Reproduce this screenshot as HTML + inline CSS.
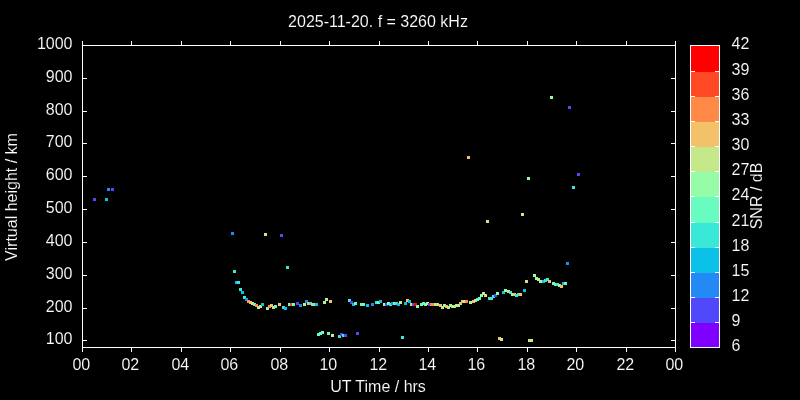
<!DOCTYPE html>
<html><head><meta charset="utf-8"><style>
html,body{margin:0;padding:0;background:#000;width:800px;height:400px;overflow:hidden}
svg{display:block;will-change:transform}
</style></head><body>
<svg width="800" height="400" viewBox="0 0 800 400">
<rect width="800" height="400" fill="#000"/>
<g shape-rendering="crispEdges">
<rect x="690" y="323" width="30" height="25" fill="#8000ff"/><rect x="690" y="298" width="30" height="25" fill="#5148fc"/><rect x="690" y="273" width="30" height="25" fill="#238af5"/><rect x="690" y="248" width="30" height="25" fill="#0cc1e8"/><rect x="690" y="223" width="30" height="25" fill="#3ae8d7"/><rect x="690" y="197" width="30" height="26" fill="#68fcc1"/><rect x="690" y="172" width="30" height="25" fill="#97fca7"/><rect x="690" y="147" width="30" height="25" fill="#c5e88a"/><rect x="690" y="122" width="30" height="25" fill="#f3c16a"/><rect x="690" y="97" width="30" height="25" fill="#ff8a48"/><rect x="690" y="72" width="30" height="25" fill="#ff4824"/><rect x="690" y="46" width="30" height="26" fill="#ff0000"/>
<rect x="93" y="198" width="3" height="3" fill="#5148fc"/>
<rect x="105" y="198" width="3" height="3" fill="#0cc1e8"/>
<rect x="107" y="188" width="3" height="3" fill="#238af5"/>
<rect x="111" y="188" width="3" height="3" fill="#5148fc"/>
<rect x="231" y="232" width="3" height="3" fill="#238af5"/>
<rect x="233" y="270" width="3" height="3" fill="#3ae8d7"/>
<rect x="235" y="281" width="3" height="3" fill="#0cc1e8"/>
<rect x="237" y="281" width="3" height="3" fill="#3ae8d7"/>
<rect x="239" y="288" width="3" height="3" fill="#3ae8d7"/>
<rect x="241" y="291" width="3" height="3" fill="#0cc1e8"/>
<rect x="243" y="296" width="3" height="3" fill="#3ae8d7"/>
<rect x="245" y="298" width="3" height="3" fill="#238af5"/>
<rect x="247" y="300" width="3" height="3" fill="#ff8a48"/>
<rect x="249" y="301" width="3" height="3" fill="#f3c16a"/>
<rect x="251" y="302" width="3" height="3" fill="#c5e88a"/>
<rect x="253" y="303" width="3" height="3" fill="#68fcc1"/>
<rect x="255" y="304" width="3" height="3" fill="#ff8a48"/>
<rect x="257" y="306" width="3" height="3" fill="#c5e88a"/>
<rect x="259" y="305" width="3" height="3" fill="#c5e88a"/>
<rect x="261" y="303" width="3" height="3" fill="#0cc1e8"/>
<rect x="264" y="233" width="3" height="3" fill="#c5e88a"/>
<rect x="266" y="307" width="3" height="3" fill="#97fca7"/>
<rect x="268" y="305" width="3" height="3" fill="#ff8a48"/>
<rect x="270" y="304" width="3" height="3" fill="#f3c16a"/>
<rect x="272" y="306" width="3" height="3" fill="#c5e88a"/>
<rect x="274" y="305" width="3" height="3" fill="#68fcc1"/>
<rect x="278" y="303" width="3" height="3" fill="#f3c16a"/>
<rect x="280" y="234" width="3" height="3" fill="#5148fc"/>
<rect x="282" y="306" width="3" height="3" fill="#3ae8d7"/>
<rect x="284" y="307" width="3" height="3" fill="#0cc1e8"/>
<rect x="286" y="266" width="3" height="3" fill="#3ae8d7"/>
<rect x="288" y="303" width="3" height="3" fill="#68fcc1"/>
<rect x="290" y="303" width="3" height="3" fill="#ff4824"/>
<rect x="292" y="303" width="3" height="3" fill="#68fcc1"/>
<rect x="296" y="302" width="3" height="3" fill="#5148fc"/>
<rect x="299" y="304" width="3" height="3" fill="#238af5"/>
<rect x="303" y="303" width="3" height="3" fill="#c5e88a"/>
<rect x="305" y="300" width="3" height="3" fill="#238af5"/>
<rect x="307" y="302" width="3" height="3" fill="#f3c16a"/>
<rect x="309" y="302" width="3" height="3" fill="#3ae8d7"/>
<rect x="311" y="303" width="3" height="3" fill="#f3c16a"/>
<rect x="313" y="303" width="3" height="3" fill="#68fcc1"/>
<rect x="315" y="303" width="3" height="3" fill="#0cc1e8"/>
<rect x="317" y="333" width="3" height="3" fill="#68fcc1"/>
<rect x="319" y="332" width="3" height="3" fill="#68fcc1"/>
<rect x="321" y="331" width="3" height="3" fill="#68fcc1"/>
<rect x="323" y="301" width="3" height="3" fill="#c5e88a"/>
<rect x="325" y="298" width="3" height="3" fill="#97fca7"/>
<rect x="327" y="332" width="3" height="3" fill="#68fcc1"/>
<rect x="329" y="300" width="3" height="3" fill="#f3c16a"/>
<rect x="331" y="334" width="3" height="3" fill="#c5e88a"/>
<rect x="338" y="335" width="3" height="3" fill="#3ae8d7"/>
<rect x="340" y="333" width="3" height="3" fill="#5148fc"/>
<rect x="342" y="334" width="3" height="3" fill="#3ae8d7"/>
<rect x="344" y="334" width="3" height="3" fill="#5148fc"/>
<rect x="348" y="299" width="3" height="3" fill="#3ae8d7"/>
<rect x="350" y="301" width="3" height="3" fill="#5148fc"/>
<rect x="352" y="303" width="3" height="3" fill="#0cc1e8"/>
<rect x="354" y="302" width="3" height="3" fill="#68fcc1"/>
<rect x="356" y="332" width="3" height="3" fill="#5148fc"/>
<rect x="360" y="303" width="3" height="3" fill="#68fcc1"/>
<rect x="362" y="303" width="3" height="3" fill="#68fcc1"/>
<rect x="366" y="304" width="3" height="3" fill="#0cc1e8"/>
<rect x="371" y="303" width="3" height="3" fill="#238af5"/>
<rect x="375" y="301" width="3" height="3" fill="#3ae8d7"/>
<rect x="377" y="301" width="3" height="3" fill="#68fcc1"/>
<rect x="379" y="300" width="3" height="3" fill="#0cc1e8"/>
<rect x="383" y="303" width="3" height="3" fill="#97fca7"/>
<rect x="385" y="303" width="3" height="3" fill="#5148fc"/>
<rect x="387" y="302" width="3" height="3" fill="#97fca7"/>
<rect x="389" y="303" width="3" height="3" fill="#3ae8d7"/>
<rect x="391" y="302" width="3" height="3" fill="#238af5"/>
<rect x="393" y="302" width="3" height="3" fill="#68fcc1"/>
<rect x="395" y="302" width="3" height="3" fill="#3ae8d7"/>
<rect x="397" y="303" width="3" height="3" fill="#0cc1e8"/>
<rect x="399" y="301" width="3" height="3" fill="#c5e88a"/>
<rect x="401" y="336" width="3" height="3" fill="#3ae8d7"/>
<rect x="404" y="302" width="3" height="3" fill="#0cc1e8"/>
<rect x="406" y="299" width="3" height="3" fill="#f3c16a"/>
<rect x="408" y="300" width="3" height="3" fill="#0cc1e8"/>
<rect x="410" y="303" width="3" height="3" fill="#c5e88a"/>
<rect x="412" y="303" width="3" height="3" fill="#5148fc"/>
<rect x="414" y="303" width="3" height="3" fill="#ff0000"/>
<rect x="416" y="305" width="3" height="3" fill="#97fca7"/>
<rect x="420" y="303" width="3" height="3" fill="#68fcc1"/>
<rect x="422" y="302" width="3" height="3" fill="#68fcc1"/>
<rect x="424" y="303" width="3" height="3" fill="#97fca7"/>
<rect x="426" y="302" width="3" height="3" fill="#c5e88a"/>
<rect x="428" y="303" width="3" height="3" fill="#5148fc"/>
<rect x="430" y="303" width="3" height="3" fill="#ff8a48"/>
<rect x="432" y="303" width="3" height="3" fill="#ff8a48"/>
<rect x="434" y="303" width="3" height="3" fill="#c5e88a"/>
<rect x="436" y="303" width="3" height="3" fill="#c5e88a"/>
<rect x="439" y="304" width="3" height="3" fill="#f3c16a"/>
<rect x="441" y="306" width="3" height="3" fill="#c5e88a"/>
<rect x="443" y="304" width="3" height="3" fill="#97fca7"/>
<rect x="445" y="305" width="3" height="3" fill="#f3c16a"/>
<rect x="447" y="306" width="3" height="3" fill="#c5e88a"/>
<rect x="449" y="304" width="3" height="3" fill="#97fca7"/>
<rect x="451" y="305" width="3" height="3" fill="#c5e88a"/>
<rect x="453" y="305" width="3" height="3" fill="#c5e88a"/>
<rect x="455" y="304" width="3" height="3" fill="#c5e88a"/>
<rect x="457" y="304" width="3" height="3" fill="#97fca7"/>
<rect x="459" y="302" width="3" height="3" fill="#f3c16a"/>
<rect x="461" y="300" width="3" height="3" fill="#f3c16a"/>
<rect x="463" y="300" width="3" height="3" fill="#c5e88a"/>
<rect x="465" y="300" width="3" height="3" fill="#ff8a48"/>
<rect x="467" y="156" width="3" height="3" fill="#f3c16a"/>
<rect x="469" y="301" width="3" height="3" fill="#c5e88a"/>
<rect x="472" y="300" width="3" height="3" fill="#f3c16a"/>
<rect x="474" y="299" width="3" height="3" fill="#c5e88a"/>
<rect x="476" y="298" width="3" height="3" fill="#68fcc1"/>
<rect x="478" y="297" width="3" height="3" fill="#68fcc1"/>
<rect x="480" y="294" width="3" height="3" fill="#97fca7"/>
<rect x="482" y="292" width="3" height="3" fill="#c5e88a"/>
<rect x="484" y="294" width="3" height="3" fill="#c5e88a"/>
<rect x="486" y="220" width="3" height="3" fill="#c5e88a"/>
<rect x="488" y="297" width="3" height="3" fill="#3ae8d7"/>
<rect x="490" y="297" width="3" height="3" fill="#3ae8d7"/>
<rect x="492" y="295" width="3" height="3" fill="#3ae8d7"/>
<rect x="494" y="294" width="3" height="3" fill="#5148fc"/>
<rect x="496" y="292" width="3" height="3" fill="#97fca7"/>
<rect x="498" y="337" width="3" height="3" fill="#f3c16a"/>
<rect x="500" y="338" width="3" height="3" fill="#c5e88a"/>
<rect x="502" y="291" width="3" height="3" fill="#0cc1e8"/>
<rect x="504" y="289" width="3" height="3" fill="#97fca7"/>
<rect x="507" y="290" width="3" height="3" fill="#c5e88a"/>
<rect x="509" y="291" width="3" height="3" fill="#3ae8d7"/>
<rect x="511" y="293" width="3" height="3" fill="#97fca7"/>
<rect x="513" y="293" width="3" height="3" fill="#f3c16a"/>
<rect x="515" y="294" width="3" height="3" fill="#3ae8d7"/>
<rect x="517" y="293" width="3" height="3" fill="#3ae8d7"/>
<rect x="519" y="293" width="3" height="3" fill="#f3c16a"/>
<rect x="521" y="213" width="3" height="3" fill="#c5e88a"/>
<rect x="523" y="289" width="3" height="3" fill="#0cc1e8"/>
<rect x="525" y="280" width="3" height="3" fill="#c5e88a"/>
<rect x="527" y="177" width="3" height="3" fill="#97fca7"/>
<rect x="528" y="339" width="3" height="3" fill="#c5e88a"/>
<rect x="530" y="339" width="3" height="3" fill="#c5e88a"/>
<rect x="533" y="274" width="3" height="3" fill="#97fca7"/>
<rect x="535" y="277" width="3" height="3" fill="#97fca7"/>
<rect x="537" y="278" width="3" height="3" fill="#c5e88a"/>
<rect x="539" y="280" width="3" height="3" fill="#97fca7"/>
<rect x="542" y="280" width="3" height="3" fill="#0cc1e8"/>
<rect x="544" y="279" width="3" height="3" fill="#3ae8d7"/>
<rect x="546" y="278" width="3" height="3" fill="#3ae8d7"/>
<rect x="548" y="280" width="3" height="3" fill="#f3c16a"/>
<rect x="550" y="96" width="3" height="3" fill="#97fca7"/>
<rect x="552" y="282" width="3" height="3" fill="#68fcc1"/>
<rect x="554" y="283" width="3" height="3" fill="#68fcc1"/>
<rect x="556" y="283" width="3" height="3" fill="#3ae8d7"/>
<rect x="558" y="284" width="3" height="3" fill="#97fca7"/>
<rect x="560" y="285" width="3" height="3" fill="#f3c16a"/>
<rect x="562" y="282" width="3" height="3" fill="#0cc1e8"/>
<rect x="564" y="282" width="3" height="3" fill="#68fcc1"/>
<rect x="566" y="262" width="3" height="3" fill="#238af5"/>
<rect x="568" y="106" width="3" height="3" fill="#5148fc"/>
<rect x="572" y="186" width="3" height="3" fill="#3ae8d7"/>
<rect x="577" y="173" width="3" height="3" fill="#5148fc"/>
</g>
<path d="M82.5 45.5H675.5V347.5H82.5Z M82.5 348V352 M82.5 41V45 M131.5 348V352 M131.5 41V45 M181.5 348V352 M181.5 41V45 M230.5 348V352 M230.5 41V45 M280.5 348V352 M280.5 41V45 M329.5 348V352 M329.5 41V45 M379.5 348V352 M379.5 41V45 M428.5 348V352 M428.5 41V45 M477.5 348V352 M477.5 41V45 M527.5 348V352 M527.5 41V45 M576.5 348V352 M576.5 41V45 M626.5 348V352 M626.5 41V45 M675.5 348V352 M675.5 41V45 M83 45.5H87 M671 45.5H675 M83 78.5H87 M671 78.5H675 M83 111.5H87 M671 111.5H675 M83 143.5H87 M671 143.5H675 M83 176.5H87 M671 176.5H675 M83 209.5H87 M671 209.5H675 M83 242.5H87 M671 242.5H675 M83 275.5H87 M671 275.5H675 M83 308.5H87 M671 308.5H675 M83 340.5H87 M671 340.5H675 M691 71.5H695 M715 71.5H719 M691 96.5H695 M715 96.5H719 M691 121.5H695 M715 121.5H719 M691 146.5H695 M715 146.5H719 M691 171.5H695 M715 171.5H719 M691 196.5H695 M715 196.5H719 M691 222.5H695 M715 222.5H719 M691 247.5H695 M715 247.5H719 M691 272.5H695 M715 272.5H719 M691 297.5H695 M715 297.5H719 M691 322.5H695 M715 322.5H719 M690.5 45.5H719.5V347.5H690.5Z" stroke="#ffffff" stroke-width="1" fill="none" shape-rendering="crispEdges"/>
<text x="378" y="27" text-anchor="middle" font-family="Liberation Sans, sans-serif" font-size="16" fill="#ffffff" stroke="#000" stroke-width="0.12">2025-11-20. f = 3260 kHz</text>
<text x="72.5" y="49" text-anchor="end" font-family="Liberation Sans, sans-serif" font-size="16" fill="#ffffff" stroke="#000" stroke-width="0.12">1000</text>
<text x="72.5" y="82" text-anchor="end" font-family="Liberation Sans, sans-serif" font-size="16" fill="#ffffff" stroke="#000" stroke-width="0.12">900</text>
<text x="72.5" y="115" text-anchor="end" font-family="Liberation Sans, sans-serif" font-size="16" fill="#ffffff" stroke="#000" stroke-width="0.12">800</text>
<text x="72.5" y="147" text-anchor="end" font-family="Liberation Sans, sans-serif" font-size="16" fill="#ffffff" stroke="#000" stroke-width="0.12">700</text>
<text x="72.5" y="180" text-anchor="end" font-family="Liberation Sans, sans-serif" font-size="16" fill="#ffffff" stroke="#000" stroke-width="0.12">600</text>
<text x="72.5" y="213" text-anchor="end" font-family="Liberation Sans, sans-serif" font-size="16" fill="#ffffff" stroke="#000" stroke-width="0.12">500</text>
<text x="72.5" y="246" text-anchor="end" font-family="Liberation Sans, sans-serif" font-size="16" fill="#ffffff" stroke="#000" stroke-width="0.12">400</text>
<text x="72.5" y="279" text-anchor="end" font-family="Liberation Sans, sans-serif" font-size="16" fill="#ffffff" stroke="#000" stroke-width="0.12">300</text>
<text x="72.5" y="312" text-anchor="end" font-family="Liberation Sans, sans-serif" font-size="16" fill="#ffffff" stroke="#000" stroke-width="0.12">200</text>
<text x="72.5" y="344" text-anchor="end" font-family="Liberation Sans, sans-serif" font-size="16" fill="#ffffff" stroke="#000" stroke-width="0.12">100</text>
<text x="81.3" y="370" text-anchor="middle" font-family="Liberation Sans, sans-serif" font-size="16" fill="#ffffff" stroke="#000" stroke-width="0.12">00</text>
<text x="130.3" y="370" text-anchor="middle" font-family="Liberation Sans, sans-serif" font-size="16" fill="#ffffff" stroke="#000" stroke-width="0.12">02</text>
<text x="180.3" y="370" text-anchor="middle" font-family="Liberation Sans, sans-serif" font-size="16" fill="#ffffff" stroke="#000" stroke-width="0.12">04</text>
<text x="229.3" y="370" text-anchor="middle" font-family="Liberation Sans, sans-serif" font-size="16" fill="#ffffff" stroke="#000" stroke-width="0.12">06</text>
<text x="279.3" y="370" text-anchor="middle" font-family="Liberation Sans, sans-serif" font-size="16" fill="#ffffff" stroke="#000" stroke-width="0.12">08</text>
<text x="328.3" y="370" text-anchor="middle" font-family="Liberation Sans, sans-serif" font-size="16" fill="#ffffff" stroke="#000" stroke-width="0.12">10</text>
<text x="378.3" y="370" text-anchor="middle" font-family="Liberation Sans, sans-serif" font-size="16" fill="#ffffff" stroke="#000" stroke-width="0.12">12</text>
<text x="427.3" y="370" text-anchor="middle" font-family="Liberation Sans, sans-serif" font-size="16" fill="#ffffff" stroke="#000" stroke-width="0.12">14</text>
<text x="476.3" y="370" text-anchor="middle" font-family="Liberation Sans, sans-serif" font-size="16" fill="#ffffff" stroke="#000" stroke-width="0.12">16</text>
<text x="526.3" y="370" text-anchor="middle" font-family="Liberation Sans, sans-serif" font-size="16" fill="#ffffff" stroke="#000" stroke-width="0.12">18</text>
<text x="575.3" y="370" text-anchor="middle" font-family="Liberation Sans, sans-serif" font-size="16" fill="#ffffff" stroke="#000" stroke-width="0.12">20</text>
<text x="625.3" y="370" text-anchor="middle" font-family="Liberation Sans, sans-serif" font-size="16" fill="#ffffff" stroke="#000" stroke-width="0.12">22</text>
<text x="674.3" y="370" text-anchor="middle" font-family="Liberation Sans, sans-serif" font-size="16" fill="#ffffff" stroke="#000" stroke-width="0.12">00</text>
<text x="378" y="392" text-anchor="middle" font-family="Liberation Sans, sans-serif" font-size="16" fill="#ffffff" stroke="#000" stroke-width="0.12">UT Time / hrs</text>
<text transform="translate(17 197) rotate(-90)" text-anchor="middle" font-family="Liberation Sans, sans-serif" font-size="16" fill="#ffffff" stroke="#000" stroke-width="0.12">Virtual height / km</text>
<text x="731.5" y="351.2" font-family="Liberation Sans, sans-serif" font-size="16" fill="#ffffff" stroke="#000" stroke-width="0.12">6</text>
<text x="731.5" y="326.2" font-family="Liberation Sans, sans-serif" font-size="16" fill="#ffffff" stroke="#000" stroke-width="0.12">9</text>
<text x="731.5" y="301.2" font-family="Liberation Sans, sans-serif" font-size="16" fill="#ffffff" stroke="#000" stroke-width="0.12">12</text>
<text x="731.5" y="276.2" font-family="Liberation Sans, sans-serif" font-size="16" fill="#ffffff" stroke="#000" stroke-width="0.12">15</text>
<text x="731.5" y="251.2" font-family="Liberation Sans, sans-serif" font-size="16" fill="#ffffff" stroke="#000" stroke-width="0.12">18</text>
<text x="731.5" y="226.2" font-family="Liberation Sans, sans-serif" font-size="16" fill="#ffffff" stroke="#000" stroke-width="0.12">21</text>
<text x="731.5" y="200.2" font-family="Liberation Sans, sans-serif" font-size="16" fill="#ffffff" stroke="#000" stroke-width="0.12">24</text>
<text x="731.5" y="175.2" font-family="Liberation Sans, sans-serif" font-size="16" fill="#ffffff" stroke="#000" stroke-width="0.12">27</text>
<text x="731.5" y="150.2" font-family="Liberation Sans, sans-serif" font-size="16" fill="#ffffff" stroke="#000" stroke-width="0.12">30</text>
<text x="731.5" y="125.2" font-family="Liberation Sans, sans-serif" font-size="16" fill="#ffffff" stroke="#000" stroke-width="0.12">33</text>
<text x="731.5" y="100.2" font-family="Liberation Sans, sans-serif" font-size="16" fill="#ffffff" stroke="#000" stroke-width="0.12">36</text>
<text x="731.5" y="75.2" font-family="Liberation Sans, sans-serif" font-size="16" fill="#ffffff" stroke="#000" stroke-width="0.12">39</text>
<text x="731.5" y="49.2" font-family="Liberation Sans, sans-serif" font-size="16" fill="#ffffff" stroke="#000" stroke-width="0.12">42</text>
<text transform="translate(762 196) rotate(-90)" text-anchor="middle" font-family="Liberation Sans, sans-serif" font-size="16" fill="#ffffff" stroke="#000" stroke-width="0.12">SNR / dB</text>
</svg>
</body></html>
